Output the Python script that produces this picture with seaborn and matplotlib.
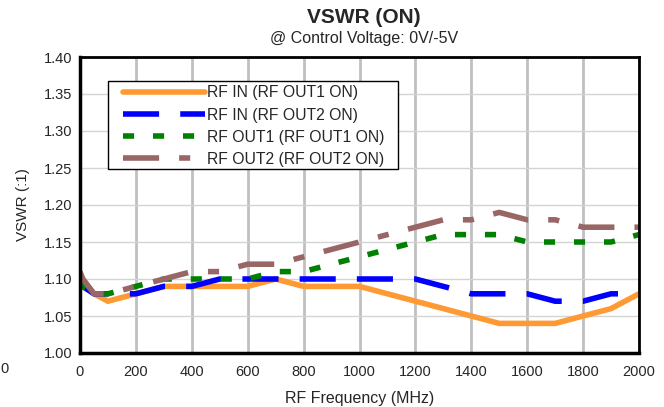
import matplotlib
matplotlib.use("Agg")
import matplotlib.pyplot as plt
from matplotlib.patches import Rectangle
import seaborn as sns
import pandas as pd

freq = [0, 10, 50, 100, 200, 300, 400, 500, 600, 700, 800, 900, 1000,
        1100, 1200, 1300, 1400, 1500, 1600, 1700, 1800, 1900, 2000]
rf_in_out1 = [1.10, 1.10, 1.08, 1.07, 1.08, 1.09, 1.09, 1.09, 1.09, 1.10, 1.09, 1.09, 1.09,
              1.08, 1.07, 1.06, 1.05, 1.04, 1.04, 1.04, 1.05, 1.06, 1.08]
rf_in_out2 = [1.10, 1.09, 1.08, 1.08, 1.08, 1.09, 1.09, 1.10, 1.10, 1.10, 1.10, 1.10, 1.10,
              1.10, 1.10, 1.09, 1.08, 1.08, 1.08, 1.07, 1.07, 1.08, 1.08]
rf_out1 = [1.10, 1.09, 1.08, 1.08, 1.09, 1.10, 1.10, 1.10, 1.10, 1.11, 1.11, 1.12, 1.13,
           1.14, 1.15, 1.16, 1.16, 1.16, 1.15, 1.15, 1.15, 1.15, 1.16]
rf_out2 = [1.11, 1.10, 1.08, 1.08, 1.09, 1.10, 1.11, 1.11, 1.12, 1.12, 1.13, 1.14, 1.15,
           1.16, 1.17, 1.18, 1.18, 1.19, 1.18, 1.18, 1.17, 1.17, 1.17]
labels = ["RF IN (RF OUT1 ON)", "RF IN (RF OUT2 ON)",
          "RF OUT1 (RF OUT1 ON)", "RF OUT2 (RF OUT2 ON)"]
colors = ["#FF9933", "#0000FF", "#008000", "#996666"]
dashes = [None, (6.5, 3.8), (2.0, 3.4), (6.5, 3.6, 2.0, 3.6)]

sns.set_style("white")
plt.rcParams['font.family'] = ['Liberation Sans', 'DejaVu Sans']

W, H = 664, 407
fig = plt.figure(figsize=(6.64, 4.07), dpi=100)
ax = fig.add_axes([80/W, 1 - 353/H, (639-80)/W, (353-57)/H])

df = pd.DataFrame({"freq": freq, labels[0]: rf_in_out1, labels[1]: rf_in_out2,
                   labels[2]: rf_out1, labels[3]: rf_out2})
long = df.melt(id_vars="freq", var_name="series", value_name="vswr")

for lab, col, ds in zip(labels, colors, dashes):
    sub = long[long.series == lab]
    sns.lineplot(data=sub, x="freq", y="vswr", ax=ax, color=col, lw=4,
                 label=lab)
    ln = ax.get_lines()[-1]
    ln.set_solid_capstyle("butt")
    ln.set_dash_capstyle("butt")
    ln.set_solid_joinstyle("miter")
    if ds is not None:
        ln.set_dashes(ds)

ax.set_xlim(0, 2000)
ax.set_ylim(1.0, 1.4)
ax.set_xticks(range(0, 2001, 200))
ax.set_yticks([1.0 + 0.05*i for i in range(9)])
ax.set_yticklabels([f"{1.0 + 0.05*i:.2f}" for i in range(9)])
ax.grid(False)
ax.xaxis.grid(True, color="#C0C0C0", lw=2)
ax.yaxis.grid(True, color="#D4D4D4", lw=1)
ax.set_axisbelow(True)
for s in ax.spines.values():
    s.set_color("black")
    s.set_linewidth(2)
ax.spines["left"].set_linewidth(2.5)
ax.spines["bottom"].set_linewidth(2.5)
ax.tick_params(axis="both", direction="out", length=3, width=2, color="black",
               labelsize=10.5)
ax.tick_params(axis="x", pad=6)
ax.tick_params(axis="y", pad=2.5)
ax.set_xlabel("RF Frequency (MHz)", fontsize=11.5, labelpad=8)
ax.set_ylabel("VSWR (:1)", fontsize=11, labelpad=10)

fig.text(364/W, 1 - 17.5/H, "VSWR (ON)", ha="center", va="center",
         fontsize=15, fontweight="bold")
fig.text(364/W, 1 - 38/H, "@ Control Voltage: 0V/-5V", ha="center",
         va="center", fontsize=11.5)
fig.text(0/W, 1 - 369/H, "0", ha="left", va="center", fontsize=10.5)

# legend box (drawn separately) and frameless legend inside it
box = Rectangle((108/W, 1 - 169/H), (398-108)/W, (169-81)/H, transform=fig.transFigure,
                facecolor="white", edgecolor="black", lw=1, zorder=4)
fig.add_artist(box)
fs = 11.3
leg = fig.legend(*ax.get_legend_handles_labels(), loc="upper left",
                 bbox_to_anchor=(123/W, 1 - 85.5/H), bbox_transform=fig.transFigure,
                 frameon=False, fontsize=fs, handlelength=82/(fs*100/72),
                 handletextpad=0.1, borderpad=0.0, labelspacing=0.45,
                 borderaxespad=0)
leg.set_zorder(5)
leg.legend_handles[0].set_solid_capstyle("round")
ax.get_legend().remove()

fig.savefig("out.png", dpi=100)
